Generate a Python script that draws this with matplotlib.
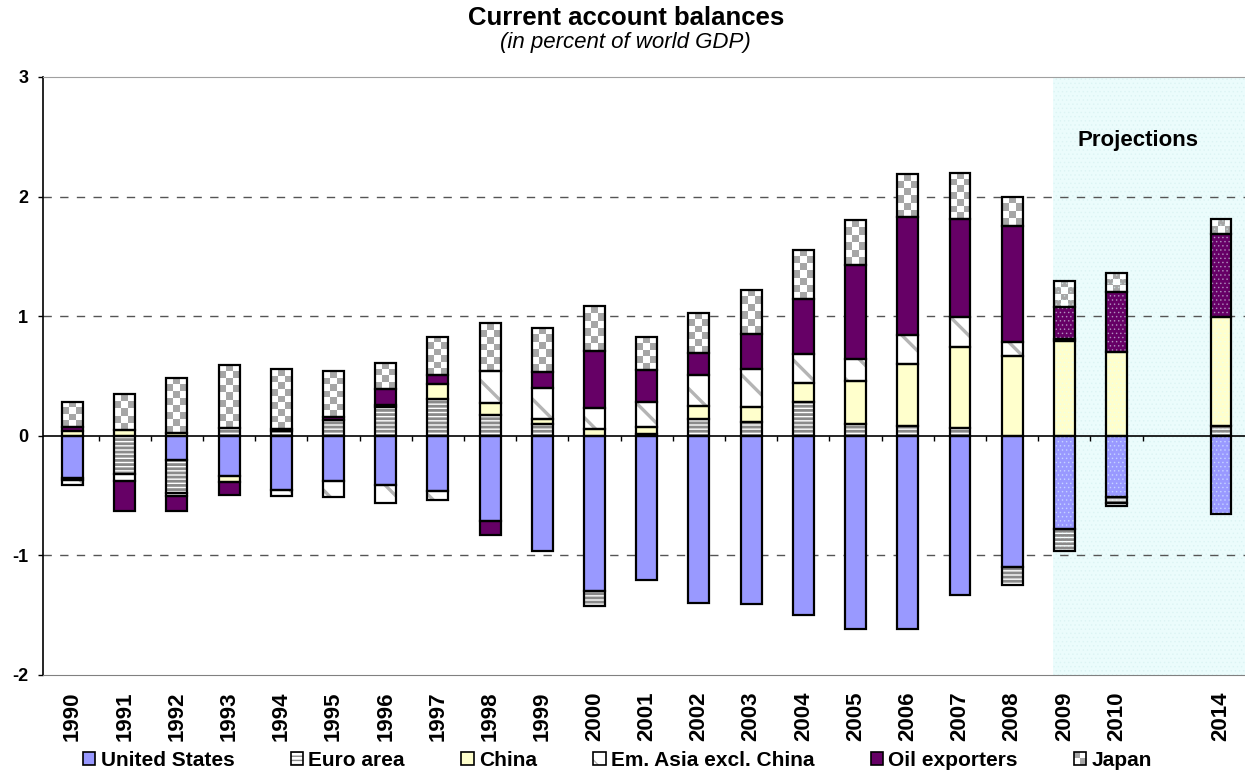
import numpy as np
import matplotlib.pyplot as plt
from matplotlib.patches import Patch, Rectangle
from matplotlib.colors import ListedColormap
from matplotlib.legend_handler import HandlerBase

plt.rcParams['font.family'] = ['Liberation Sans', 'DejaVu Sans']

# datos (porcentaje del PIB mundial)
years = ['1990', '1991', '1992', '1993', '1994', '1995', '1996', '1997', '1998', '1999',
         '2000', '2001', '2002', '2003', '2004', '2005', '2006', '2007', '2008', '2009',
         '2010', '2014']
pos = np.array(list(range(21)) + [22])

us = [-0.35, 0.0, -0.20, -0.34, -0.45, -0.38, -0.41, -0.465, -0.71, -0.96, -1.30,
      -1.21, -1.40, -1.41, -1.50, -1.615, -1.615, -1.335, -1.10, -0.78, -0.51, -0.65]
euro = [-0.02, -0.32, -0.28, 0.065, 0.04, 0.13, 0.24, 0.31, 0.17, 0.10, -0.12,
        0.015, 0.14, 0.115, 0.28, 0.10, 0.08, 0.065, -0.15, -0.18, -0.055, 0.085]
china = [0.04, 0.05, 0.02, -0.045, 0.02, 0.0, 0.02, 0.12, 0.10, 0.04, 0.055,
         0.055, 0.105, 0.125, 0.16, 0.355, 0.52, 0.68, 0.665, 0.795, 0.70, 0.905]
asia = [-0.04, -0.06, -0.02, 0.0, -0.055, -0.13, -0.155, -0.07, 0.27, 0.26, 0.18,
        0.215, 0.26, 0.32, 0.245, 0.185, 0.245, 0.25, 0.115, 0.015, -0.02, 0.0]
oil = [0.03, -0.25, -0.13, -0.11, 0.0, 0.03, 0.13, 0.075, -0.12, 0.13, 0.475,
       0.265, 0.185, 0.29, 0.46, 0.79, 0.985, 0.82, 0.97, 0.27, 0.50, 0.70]
japan = [0.21, 0.30, 0.46, 0.53, 0.50, 0.38, 0.22, 0.32, 0.40, 0.37, 0.375,
         0.28, 0.34, 0.37, 0.41, 0.37, 0.355, 0.385, 0.25, 0.21, 0.165, 0.12]

# nombre, color, trama, color de trama, grosor de trama
series = [
    (us, 'United States', '#9999ff', None, None, 1.0),
    (euro, 'Euro area', 'white', '----', '#8a8a8a', 2.0),
    (china, 'China', '#ffffcc', None, None, 1.0),
    (asia, 'Em. Asia excl. China', 'white', '\\', '#b4b4b4', 2.4),
    (oil, 'Oil exporters', '#660066', None, None, 1.0),
    (japan, 'Japan', 'white', 'checker', '#a6a6a6', 1.0),
]

proj = np.array([int(y) >= 2009 for y in years])
w = 0.4

fig = plt.figure(figsize=(12.45, 7.76), dpi=100)
ax = fig.add_axes([0.0345, 0.1302, 0.9655, 0.7706])
ax.set_xlim(-0.565, 22.46)
ax.set_ylim(-2, 3)

# zona de proyecciones
x_proj = pos[proj][0] - w / 2 - 0.02
ax.axvspan(x_proj, 23, facecolor='#ebfcfc', edgecolor='none', zorder=0)
with plt.rc_context({'hatch.linewidth': 0.5}):
    ax.axvspan(x_proj, 23, facecolor='none', hatch='....', edgecolor='#dcf4f4', lw=0, zorder=0.1)

for g in [-1, 1, 2]:
    ax.axhline(g, color='#555555', lw=1, ls=(0, (6, 6)), zorder=1)

checker_cmap = ListedColormap(['white', '#a6a6a6'])
pos_b = np.zeros(len(pos))
neg_b = np.zeros(len(pos))
handles = []
labels = []
for vals, name, color, hatch, hcol, hlw in series:
    vals = np.array(vals)
    bottom = np.where(vals >= 0, pos_b, neg_b)
    m = vals != 0
    if hatch == 'checker':
        ax.bar(pos[m], vals[m], w, bottom[m], color='white', lw=0, zorder=2)
        for xi, v, b in zip(pos[m], vals[m], bottom[m]):
            nrows = max(1, int(round(abs(v) / 0.058)))
            arr = np.add.outer(np.arange(nrows), np.arange(3)) % 2
            lo, hi = min(b, b + v), max(b, b + v)
            ax.imshow(arr, cmap=checker_cmap, vmin=0, vmax=1, extent=(xi - w / 2, xi + w / 2, lo, hi),
                      aspect='auto', interpolation='nearest', zorder=2.5)
    elif hatch:
        with plt.rc_context({'hatch.linewidth': hlw}):
            ax.bar(pos[m], vals[m], w, bottom[m], color=color, hatch=hatch, edgecolor=hcol, lw=0, zorder=2)
    else:
        ax.bar(pos[m], vals[m], w, bottom[m], color=color, lw=0, zorder=2)

    # puntos finos en las barras proyectadas
    mp = m & proj
    with plt.rc_context({'hatch.linewidth': 0.6}):
        ax.bar(pos[mp], vals[mp], w, bottom[mp], color='none', hatch='....',
               edgecolor=(0.9, 1.0, 1.0, 0.45), lw=0, zorder=3)
    ax.bar(pos[m], vals[m], w, bottom[m], fill=False, edgecolor='black', lw=1.6, zorder=4)

    pos_b += np.where(vals > 0, vals, 0)
    neg_b += np.where(vals < 0, vals, 0)

    if hatch == 'checker':
        handles.append(Patch(facecolor='white'))
    else:
        with plt.rc_context({'hatch.linewidth': hlw}):
            hp = Patch(facecolor=color, hatch=hatch, edgecolor=hcol if hatch else 'none', lw=0)
        handles.append((hp, Patch(fill=False, edgecolor='black', lw=1.2)))
    labels.append(name)

# linea de cero con marcas entre categorias
ax.axhline(0, color='black', lw=1.2, zorder=3.5)
ax.vlines(pos[:-1] + 0.5, -0.04, 0, color='black', lw=1, zorder=3.5)

ax.set_xticks(pos)
ax.set_xticklabels(years, rotation=90, fontsize=16, fontweight='bold')
ax.tick_params(axis='x', length=0, pad=12)
ax.set_yticks([-2, -1, 0, 1, 2, 3])
ax.set_yticklabels(['-2', '-1', '0', '1', '2', '3'], fontsize=13, fontweight='bold')
ax.tick_params(axis='y', direction='out', length=3.6, width=1, pad=7)

ax.spines['right'].set_visible(False)
ax.spines['top'].set_color('#a0a0a0')
ax.spines['bottom'].set_color('#808080')
ax.spines['left'].set_linewidth(1.2)

ax.text(0.911, 0.8946, 'Projections', transform=ax.transAxes, ha='center', va='center',
        fontsize=16, fontweight='bold')

fig.text(0.503, 0.977, 'Current account balances', ha='center', va='center',
         fontsize=18.5, fontweight='bold')
fig.text(0.5025, 0.9446, '(in percent of world GDP)', ha='center', va='center',
         fontsize=16, style='italic')


class HandlerChecker(HandlerBase):
    def create_artists(self, legend, orig_handle, xdescent, ydescent, width, height, fontsize, trans):
        arts = []
        for i in range(2):
            for j in range(2):
                c = '#a6a6a6' if (i + j) % 2 else 'white'
                arts.append(Rectangle((-xdescent + i * width / 2, -ydescent + j * height / 2),
                                      width / 2, height / 2, facecolor=c, edgecolor='none', transform=trans))
        arts.append(Rectangle((-xdescent, -ydescent), width, height, fill=False,
                              edgecolor='black', lw=1.2, transform=trans))
        return arts


fig.legend(handles, labels, ncol=6, loc='center', bbox_to_anchor=(0.496, 0.0206), frameon=False,
           prop={'weight': 'bold', 'size': 15}, handlelength=0.6, handleheight=0.6,
           handletextpad=0.25, columnspacing=2.7, borderpad=0,
           handler_map={handles[-1]: HandlerChecker()})

fig.savefig('out.png', dpi=100)
